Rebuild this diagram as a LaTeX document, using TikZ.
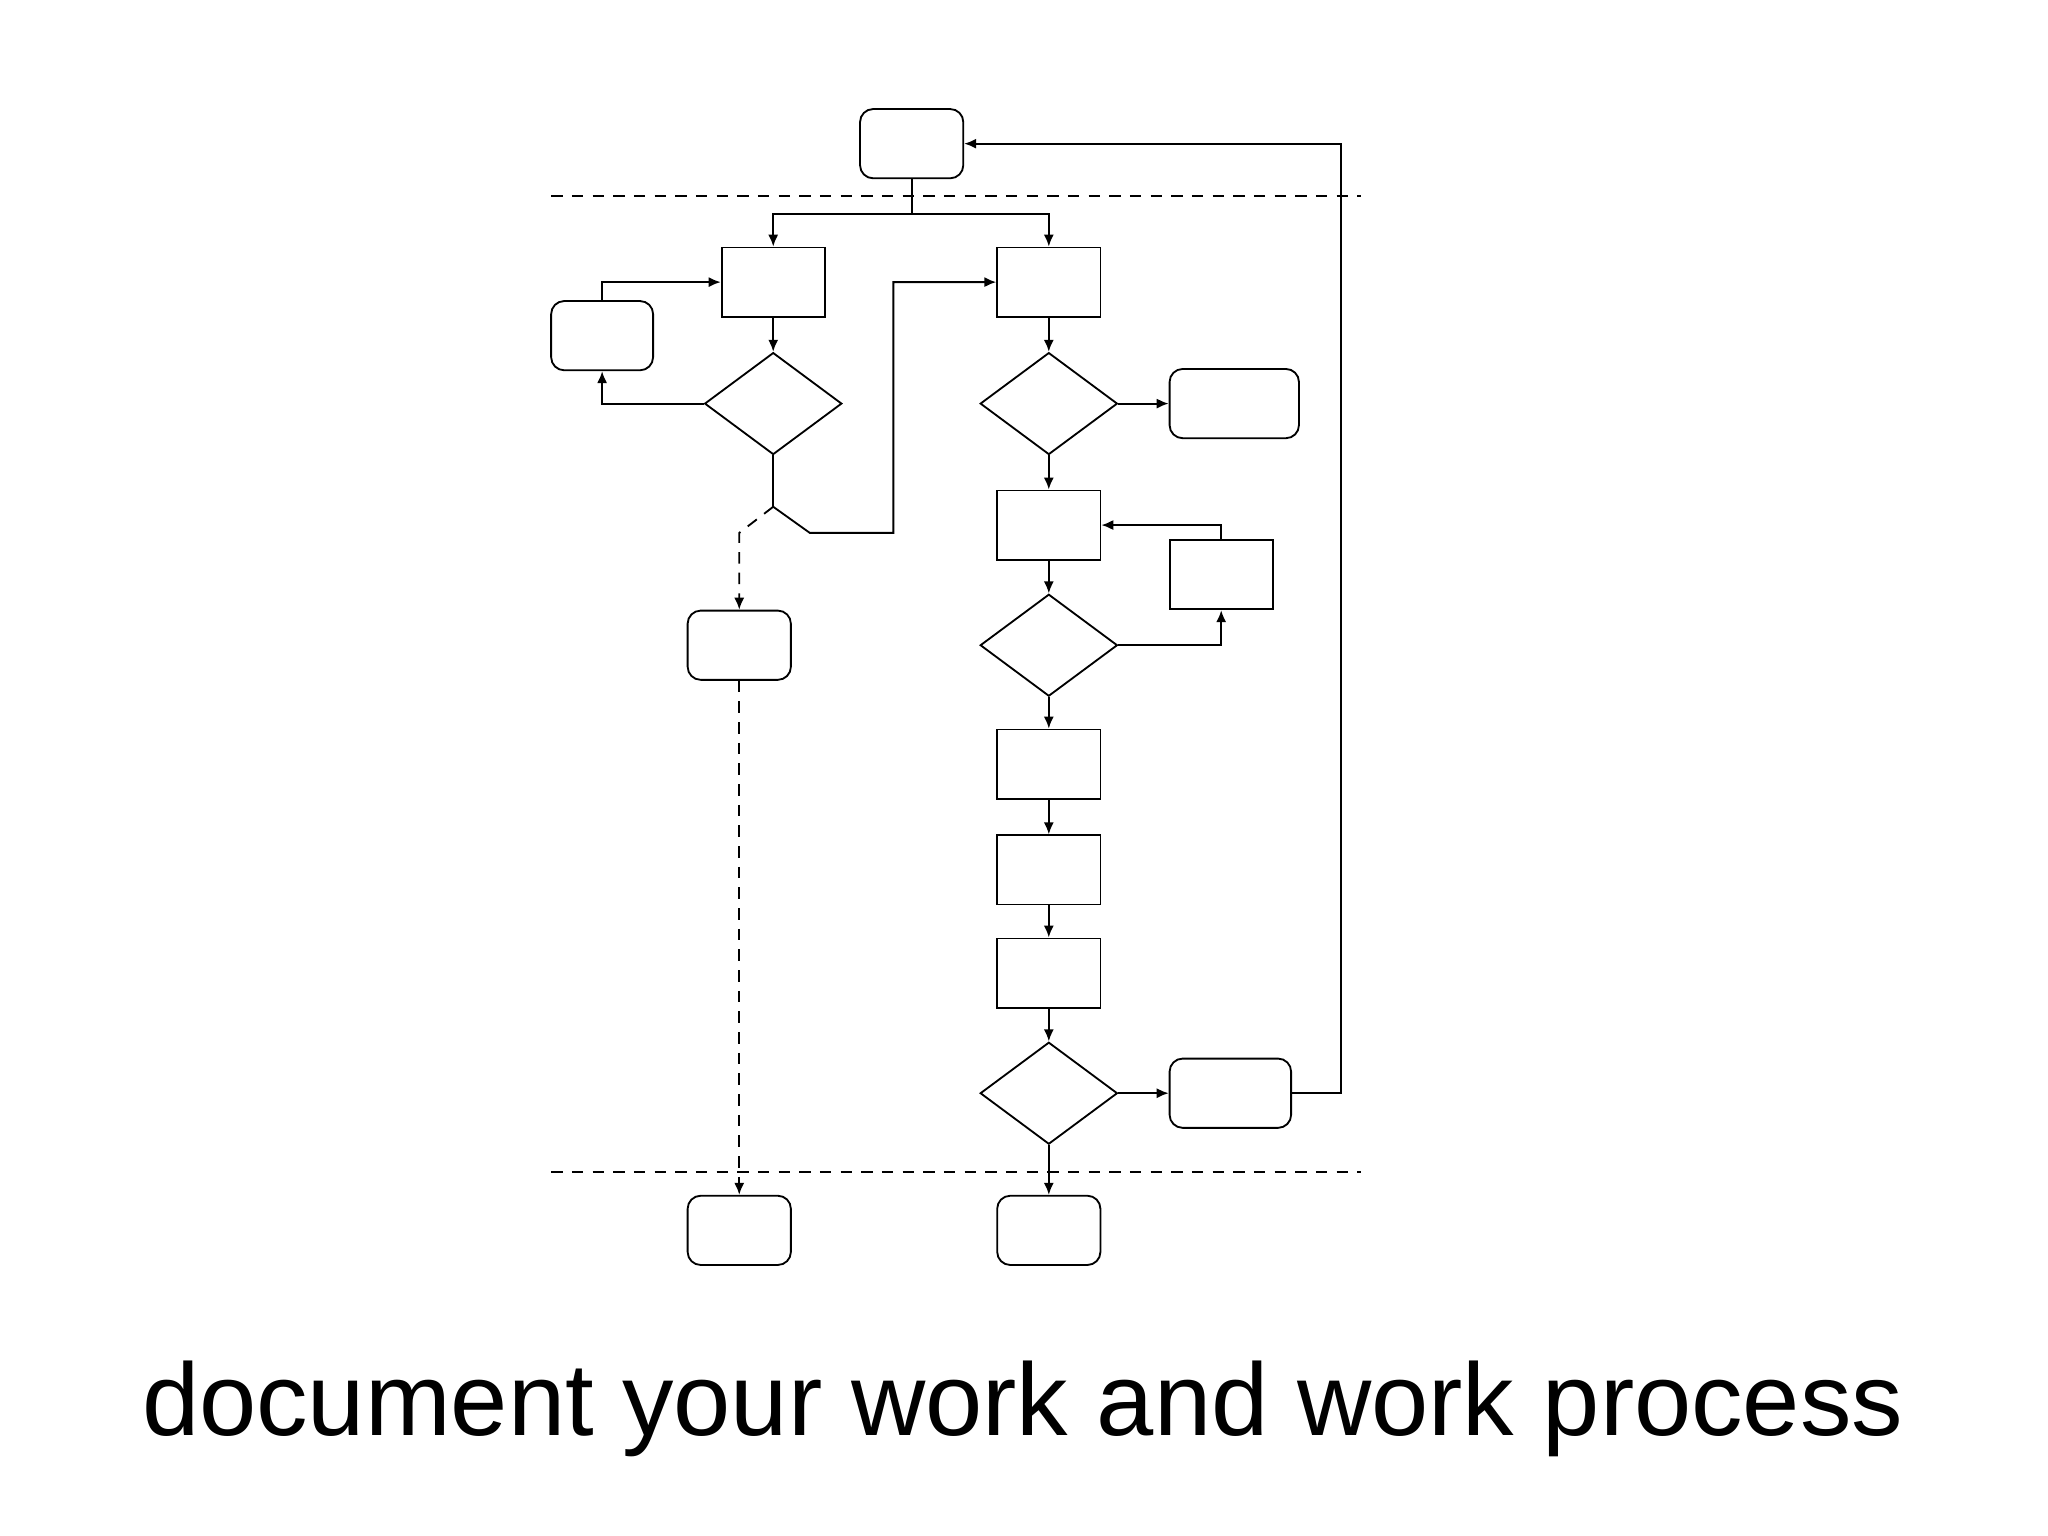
\documentclass[tikz,border=0pt]{standalone}
\usepackage{fontspec}
\setmainfont{Liberation Sans}
\usetikzlibrary{arrows.meta,shapes.geometric}
\begin{document}
\begin{tikzpicture}[x=0.01cm,y=-0.01cm,
 box/.style={draw,minimum width=0.79cm,minimum height=0.53cm,inner sep=0,line width=0.4pt},
 rbox/.style={box,rounded corners=0.1cm},
 dia/.style={draw,diamond,aspect=1.35,minimum width=1.05cm,minimum height=0.78cm,inner sep=0,line width=0.4pt},
 ar/.style={-{Latex[length=2.6pt,width=2.2pt]},line width=0.4pt},
 ln/.style={line width=0.4pt},
 dsh/.style={dash pattern=on 2.5pt off 2pt}]
\useasboundingbox (0,0) rectangle (1568,1176);
\node[rbox] (top) at (698,110) {};
\draw[dsh,ln] (422,150) coordinate (l1a) -- (1042,150) coordinate (l1b);
\draw[dsh,ln] (422,897) coordinate (l2a) -- (1042,897) coordinate (l2b);
\node[box] (A) at (592,216) {};
\node[box] (B) at (803,216) {};
\node[rbox,minimum width=0.78cm] (C) at (461,257) {};
\node[dia] (D1) at (592,309) {};
\node[dia] (D2) at (803,309) {};
\node[rbox,minimum width=0.99cm] (G) at (945,309) {};
\node[box] (H) at (803,402) {};
\node[box] (I) at (935,440) {};
\node[dia] (D3) at (803,494) {};
\node[rbox] (E) at (566,494) {};
\node[box] (J) at (803,585) {};
\node[box] (K) at (803,666) {};
\node[box] (L) at (803,745) {};
\node[dia] (D4) at (803,837) {};
\node[rbox,minimum width=0.93cm] (M) at (942,837) {};
\node[rbox] (F) at (566,942) {};
\node[rbox] (N) at (803,942) {};
\coordinate (sp) at (698,164);
\draw[ln] (top.south) -- (sp);
\draw[ar] (sp) -| (A.north);
\draw[ar] (sp) -| (B.north);
\draw[ar] (C.north) |- (A.west);
\draw[ar] (A) -- (D1);
\draw[ar] (D1.west) -| (C.south);
\coordinate (fk) at (592,388);
\draw[ln] (D1.south) -- (fk);
\draw[ar] (fk) -- (620,408) -- (684,408) |- (B.west);
\draw[ar,dsh] (fk) -- (566,408) -- (E.north);
\draw[ar,dsh] (E.south) -- (F.north);
\draw[ar] (B) -- (D2);
\draw[ar] (D2) -- (G);
\draw[ar] (D2) -- (H);
\draw[ar] (H) -- (D3);
\draw[ar] (D3.east) -| (I.south);
\draw[ar] (I.north) |- (H.east);
\draw[ar] (D3) -- (J);
\draw[ar] (J) -- (K);
\draw[ar] (K) -- (L);
\draw[ar] (L) -- (D4);
\draw[ar] (D4) -- (M);
\draw[ar] (M.east) -- (1027,837) |- (top.east);
\draw[ar] (D4) -- (N);
\node[font=\fontsize{22.4}{26}\selectfont] (t) at (783,1079) {document your work and work process};
\end{tikzpicture}
\end{document}
